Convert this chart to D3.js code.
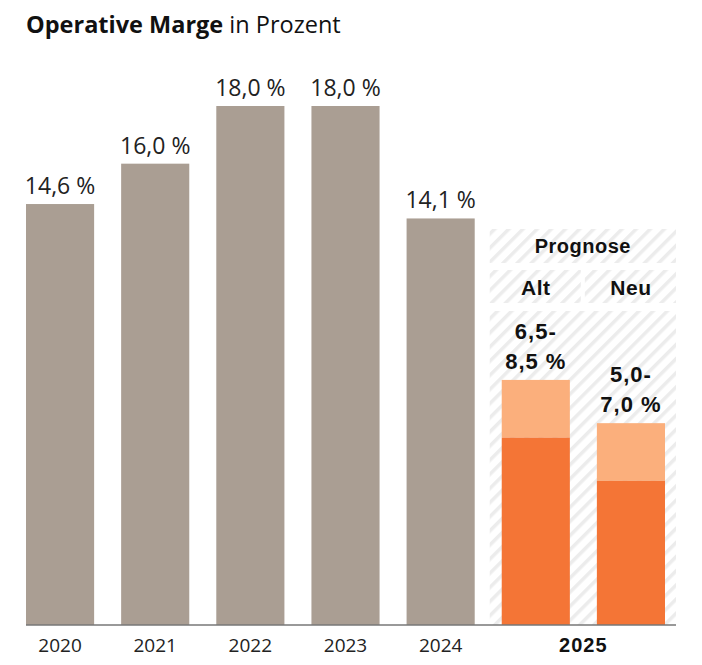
<!DOCTYPE html>
<html>
<head>
<meta charset="utf-8">
<script src="https://cdn.jsdelivr.net/npm/d3@7"></script>
<style>
  body { margin: 0; background: #fff; }
</style>
</head>
<body>
<div id="my_dataviz"></div>
<script>
// data
var years = ["2020", "2021", "2022", "2023", "2024"];
var values = [14.6, 16.0, 18.0, 18.0, 14.1];
var forecastNames = ["Alt", "Neu"];
var forecastLow = [6.5, 5.0];
var forecastHigh = [8.5, 7.0];
var forecastYear = "2025";

var fmt = function(v) { return v.toFixed(1).replace(".", ","); };

var width = 702, height = 665;
var plainFont = "Open Sans, sans-serif";
var boldFont = "Liberation Sans, Arial, sans-serif";

var svg = d3.select("#my_dataviz")
  .append("svg")
    .attr("width", width)
    .attr("height", height);

// hatch pattern
var defs = svg.append("defs");
var pat = defs.append("pattern")
    .attr("id", "hatch")
    .attr("patternUnits", "userSpaceOnUse")
    .attr("width", 10)
    .attr("height", 10)
    .attr("patternTransform", "rotate(45)");
pat.append("rect").attr("width", 10).attr("height", 10).attr("fill", "#fff");
pat.append("rect").attr("x", 0).attr("width", 3.5).attr("height", 10).attr("fill", "#ececec");

var cats = years.concat(forecastNames);

// X axis
var x = d3.scaleBand()
  .domain(cats)
  .range([26, 665])
  .paddingInner(0.284)
  .paddingOuter(0);

// Y axis
var y = d3.scaleLinear()
  .domain([0, 18])
  .range([625, 106]);

// forecast background
var bx0 = x("Alt") - 12, bx1 = x("Neu") + x.bandwidth() + 11;
var bmid = (bx0 + bx1) / 2;
svg.append("rect")
  .attr("x", bx0).attr("y", 229)
  .attr("width", bx1 - bx0).attr("height", 34)
  .attr("fill", "url(#hatch)");
svg.append("rect")
  .attr("x", bx0).attr("y", 270)
  .attr("width", bmid - 2 - bx0).attr("height", 33)
  .attr("fill", "url(#hatch)");
svg.append("rect")
  .attr("x", bmid + 2).attr("y", 270)
  .attr("width", bx1 - bmid - 2).attr("height", 33)
  .attr("fill", "url(#hatch)");
svg.append("rect")
  .attr("x", bx0).attr("y", 311)
  .attr("width", bx1 - bx0).attr("height", y(0) - 311)
  .attr("fill", "url(#hatch)");

svg.append("text")
  .attr("x", bmid).attr("y", 253)
  .attr("text-anchor", "middle")
  .style("font-family", boldFont)
  .style("font-weight", "bold")
  .style("font-size", "20px")
  .style("letter-spacing", "0.5px")
  .attr("fill", "#111")
  .text("Prognose");

svg.selectAll(".fname")
  .data(forecastNames)
  .enter()
  .append("text")
    .attr("x", function(d) { return x(d) + x.bandwidth() / 2; })
    .attr("y", 295)
    .attr("text-anchor", "middle")
    .style("font-family", boldFont)
    .style("font-weight", "bold")
    .style("font-size", "21px")
    .style("letter-spacing", "0.5px")
    .attr("fill", "#111")
    .text(function(d) { return d; });

// bars
svg.selectAll(".bar")
  .data(years)
  .enter()
  .append("rect")
    .attr("x", function(d) { return x(d); })
    .attr("y", function(d, i) { return y(values[i]); })
    .attr("width", x.bandwidth())
    .attr("height", function(d, i) { return y(0) - y(values[i]); })
    .attr("fill", "#aa9e93");

svg.selectAll(".barlabel")
  .data(years)
  .enter()
  .append("text")
    .attr("x", function(d) { return x(d) + x.bandwidth() / 2; })
    .attr("y", function(d, i) { return y(values[i]) - 10; })
    .attr("text-anchor", "middle")
    .style("font-family", plainFont)
    .style("font-size", "23px")
    .attr("fill", "#222")
    .text(function(d, i) { return fmt(values[i]) + " %"; });

// forecast bars
forecastNames.forEach(function(n, i) {
  svg.append("rect")
    .attr("x", x(n))
    .attr("y", y(forecastHigh[i]))
    .attr("width", x.bandwidth())
    .attr("height", y(forecastLow[i]) - y(forecastHigh[i]))
    .attr("fill", "#fbaf7c");
  svg.append("rect")
    .attr("x", x(n))
    .attr("y", y(forecastLow[i]))
    .attr("width", x.bandwidth())
    .attr("height", y(0) - y(forecastLow[i]))
    .attr("fill", "#f47536");
  var t = svg.append("text")
    .attr("text-anchor", "middle")
    .style("font-family", boldFont)
    .style("font-weight", "bold")
    .style("font-size", "22px")
    .style("letter-spacing", "1px")
    .attr("fill", "#111");
  t.append("tspan")
    .attr("x", x(n) + x.bandwidth() / 2)
    .attr("y", y(forecastHigh[i]) - 41)
    .text(fmt(forecastLow[i]) + "-");
  t.append("tspan")
    .attr("x", x(n) + x.bandwidth() / 2)
    .attr("y", y(forecastHigh[i]) - 11)
    .text(fmt(forecastHigh[i]) + " %");
});

// baseline
svg.append("line")
  .attr("x1", 26).attr("x2", bx1)
  .attr("y1", y(0)).attr("y2", y(0))
  .attr("stroke", "#777")
  .attr("stroke-width", 1.5);

// x labels
svg.selectAll(".xlabel")
  .data(years)
  .enter()
  .append("text")
    .attr("x", function(d) { return x(d) + x.bandwidth() / 2; })
    .attr("y", 652)
    .attr("text-anchor", "middle")
    .style("font-family", plainFont)
    .style("font-size", "19px")
    .attr("fill", "#222")
    .text(function(d) { return d; });

svg.append("text")
  .attr("x", (x("Alt") + x("Neu") + x.bandwidth()) / 2)
  .attr("y", 652)
  .attr("text-anchor", "middle")
  .style("font-family", boldFont)
  .style("font-weight", "bold")
  .style("font-size", "20px")
  .style("letter-spacing", "1px")
  .attr("fill", "#111")
  .text(forecastYear);

// title
var title = svg.append("text")
  .attr("x", 26)
  .attr("y", 33)
  .style("font-family", plainFont)
  .style("font-size", "23.5px")
  .attr("fill", "#111");
title.append("tspan").style("font-weight", "bold").text("Operative Marge");
title.append("tspan").text(" in Prozent");
</script>
</body>
</html>
